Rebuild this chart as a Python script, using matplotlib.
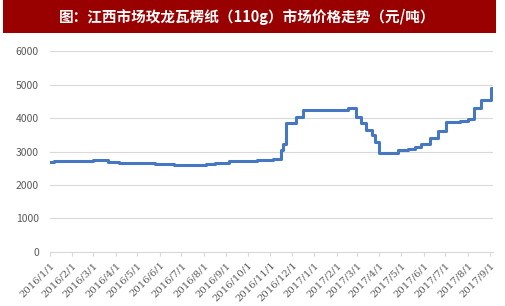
import matplotlib
matplotlib.use('Agg')
import matplotlib.pyplot as plt
import datetime

plt.rcParams['font.family'] = ['Noto Sans CJK SC', 'DejaVu Sans']

#Price change dates and prices (yuan/ton)
change_dates = ['2016-01-01', '2016-01-06', '2016-03-01', '2016-03-21', '2016-04-06',
                '2016-05-25', '2016-06-21', '2016-08-04', '2016-08-16', '2016-09-05',
                '2016-10-13', '2016-11-04', '2016-11-16', '2016-11-19', '2016-11-23',
                '2016-12-07', '2016-12-16', '2017-02-16', '2017-02-27', '2017-03-06',
                '2017-03-13', '2017-03-22', '2017-03-26', '2017-04-01', '2017-04-26',
                '2017-05-11', '2017-05-20', '2017-05-29', '2017-06-10', '2017-06-21',
                '2017-07-02', '2017-07-21', '2017-08-01', '2017-08-10', '2017-08-20',
                '2017-09-02', '2017-09-05']
prices = [2680, 2710, 2750, 2680, 2650,
          2630, 2600, 2630, 2660, 2710,
          2740, 2770, 3040, 3220, 3840,
          4040, 4240, 4290, 4040, 3840,
          3640, 3490, 3290, 2960, 3040,
          3070, 3130, 3210, 3390, 3620,
          3890, 3920, 3970, 4290, 4540,
          4890, 4890]

tick_dates = ['2016-01-01', '2016-02-01', '2016-03-01', '2016-04-01', '2016-05-01',
              '2016-06-01', '2016-07-01', '2016-08-01', '2016-09-01', '2016-10-01',
              '2016-11-01', '2016-12-01', '2017-01-01', '2017-02-01', '2017-03-01',
              '2017-04-01', '2017-05-01', '2017-06-01', '2017-07-01', '2017-08-01',
              '2017-09-01']
y_ticks = [0, 1000, 2000, 3000, 4000, 5000, 6000]

title = '图：江西市场玫龙瓦楞纸（110g）市场价格走势（元/吨）'

dates = [datetime.datetime.strptime(d, '%Y-%m-%d') for d in change_dates]
ticks = [datetime.datetime.strptime(d, '%Y-%m-%d') for d in tick_dates]

fig = plt.figure(figsize=(5.05, 3.06), dpi=100)
fig.patch.set_facecolor('white')

#Title banner
fig.patches.append(plt.Rectangle((0.006, 0.892), 0.976, 0.108, transform=fig.transFigure,
                                 facecolor='#990000', edgecolor='none'))
fig.text(0.49, 0.946, title, color='white', fontsize=10.5, fontweight='bold',
         ha='center', va='center')

ax = fig.add_axes([0.099, 0.1765, 0.877, 0.6568])
ax.plot(dates, prices, drawstyle='steps-post', color='#4677C2', linewidth=2.2)

ax.set_ylim(0, 6000)
ax.set_yticks(y_ticks)
ax.set_xlim(ticks[0], datetime.datetime(2017, 9, 5))
ax.set_xticks(ticks)
ax.set_xticklabels([t.strftime('%Y/%-m/%-d') for t in ticks], rotation=45,
                   ha='right', va='top', rotation_mode='anchor', fontsize=7.2,
                   color='#595959', family='DejaVu Serif')
ax.tick_params(axis='y', length=0, labelsize=7.5, labelcolor='#595959', pad=8)
ax.tick_params(axis='x', length=3, color='#D9D9D9', pad=3)
ax.grid(axis='y', color='#D9D9D9', linewidth=0.8)
ax.set_axisbelow(True)
for side in ['top', 'right', 'left']:
    ax.spines[side].set_visible(False)
ax.spines['bottom'].set_color('#D9D9D9')

fig.savefig('out.png', dpi=100)
